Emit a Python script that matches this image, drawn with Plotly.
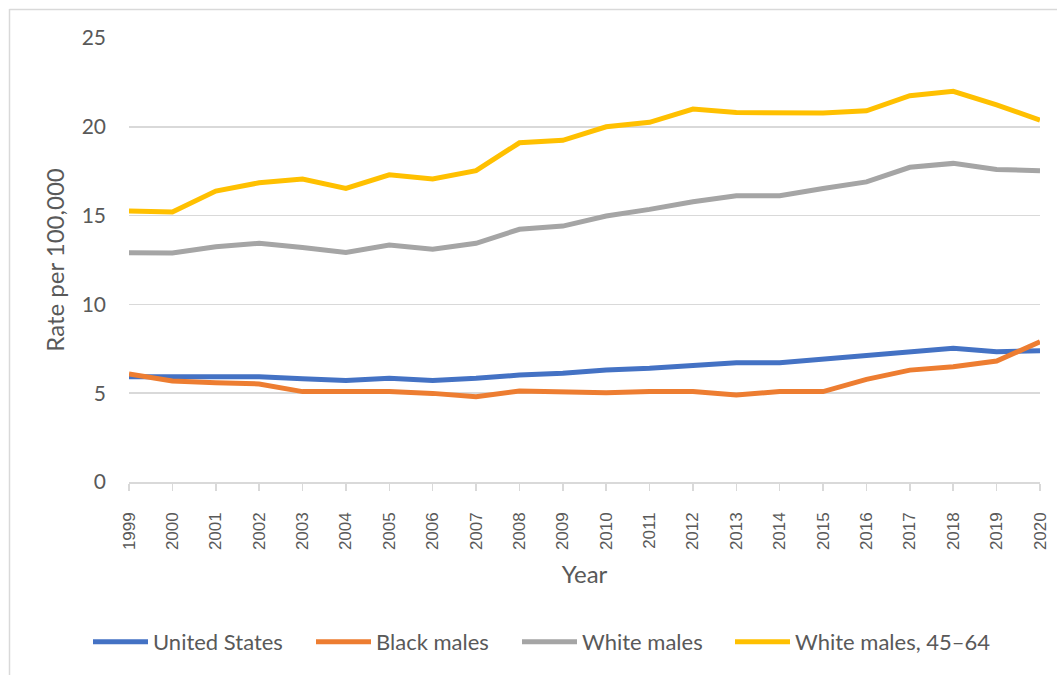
import plotly.graph_objects as go

years = list(range(1999, 2021))
us = [5.93, 5.93, 5.93, 5.93, 5.82, 5.72, 5.84, 5.72, 5.84, 6.02, 6.12, 6.31,
      6.40, 6.59, 6.72, 6.72, 6.93, 7.15, 7.38, 7.53, 7.34, 7.39]
black_males = [6.08, 5.69, 5.59, 5.52, 5.09, 5.09, 5.09, 4.99, 4.80, 5.12, 5.05, 5.03,
               5.09, 5.09, 4.90, 5.09, 5.09, 5.78, 6.30, 6.49, 6.81, 7.90]
white_males = [12.91, 12.90, 13.25, 13.44, 13.21, 12.93, 13.34, 13.10, 13.44, 14.23, 14.41, 14.98,
               15.35, 15.78, 16.12, 16.12, 16.53, 16.90, 17.72, 17.94, 17.60, 17.53]
white_males_45_64 = [15.26, 15.20, 16.38, 16.85, 17.06, 16.53, 17.30, 17.06, 17.53, 19.10, 19.24, 20.00,
                     20.25, 21.00, 20.80, 20.80, 20.78, 20.90, 21.75, 22.00, 21.23, 20.38]

series = [
    ("United States", us, "#4472C4"),
    ("Black males", black_males, "#ED7D31"),
    ("White males", white_males, "#A5A5A5"),
    ("White males, 45\u201364", white_males_45_64, "#FFC000"),
]

W, H = 1057, 675
L, R, T, B = 129, 1040, 38, 482
pw, ph = R - L, B - T

def px_x(x):
    return (x - L) / pw

def px_y(y):
    return (B - y) / ph

legend_ids = ["legend", "legend2", "legend3", "legend4"]
legend_left_px = [88, 311, 517, 730]

fig = go.Figure()
for (name, vals, color), lid in zip(series, legend_ids):
    fig.add_trace(go.Scatter(x=years, y=vals, name=name, mode="lines", legend=lid,
                             line=dict(color=color, width=5)))

legend_layout = {}
for lid, lx in zip(legend_ids, legend_left_px):
    legend_layout[lid] = dict(orientation="h", x=px_x(lx), xanchor="left", y=px_y(642), yanchor="middle",
                              font=dict(size=22, color="#595959"), itemwidth=55,
                              bgcolor="rgba(0,0,0,0)")

fig.update_layout(
    width=W, height=H,
    margin=dict(l=L, r=W - R, t=T, b=H - B, autoexpand=False),
    paper_bgcolor="white", plot_bgcolor="white",
    font=dict(family="Lato, Open Sans, sans-serif", color="#595959", size=21),
    showlegend=True,
    xaxis=dict(range=[1999, 2020], tickmode="array", tickvals=years,
               ticktext=[str(y) for y in years], tickangle=-90,
               tickfont=dict(family="Arial", size=17, color="#595959"),
               ticklabelstandoff=15,
               showgrid=False, zeroline=False, showline=True, linecolor="#d9d9d9", linewidth=1.5,
               ticks="outside", ticklen=7, tickcolor="#d9d9d9", tickwidth=1.5,
               title=dict(text="Year", font=dict(size=24, color="#595959"), standoff=17),
               automargin=False, fixedrange=True),
    yaxis=dict(range=[0, 25], dtick=5, tick0=0, showgrid=True, gridcolor="#d9d9d9", gridwidth=1.5,
               zeroline=False, showline=False, ticks="", ticklabelstandoff=22,
               tickfont=dict(size=21, color="#595959"),
               title=dict(text="Rate per 100,000", font=dict(size=24, color="#595959"), standoff=10),
               automargin=False, fixedrange=True),
    shapes=[
        dict(type="line", xref="paper", yref="paper", x0=px_x(9.5), x1=px_x(9.5), y0=px_y(9), y1=px_y(700),
             line=dict(color="#d9d9d9", width=1.5)),
        dict(type="line", xref="paper", yref="paper", x0=px_x(9.5), x1=px_x(1100), y0=px_y(9.5), y1=px_y(9.5),
             line=dict(color="#d9d9d9", width=1.5)),
    ],
    annotations=[
        dict(text="<b><i>2020</i></b>", xref="paper", yref="paper", x=px_x(20), y=px_y(4),
             xanchor="left", yanchor="bottom", showarrow=False,
             font=dict(family="Liberation Serif, Times New Roman", size=20, color="#000000")),
    ],
    **legend_layout,
)

fig.write_html("out.html", post_script="document.body.style.margin='0';",
               config={"displayModeBar": False, "staticPlot": True})
